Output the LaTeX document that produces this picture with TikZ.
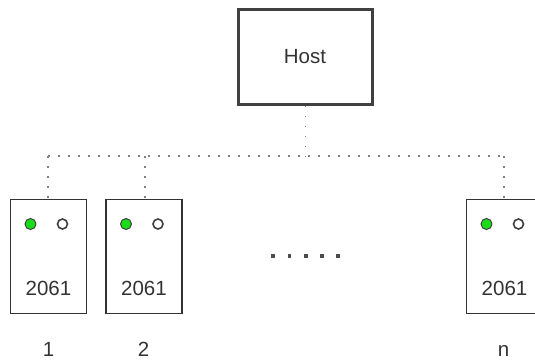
\documentclass[tikz,border=0pt]{standalone}
\usepackage{fontspec}
\setmainfont{Liberation Sans}
\begin{document}
\begin{tikzpicture}[x=1pt,y=-1pt,
  boxframe/.style={draw=black!80,line width=1.6pt,fill=white,inner sep=0pt},
  hostframe/.style={draw=black!75,line width=2.1pt,fill=white,inner sep=0pt,minimum width=134pt,minimum height=95pt},
  unitframe/.style={boxframe,minimum width=76pt,minimum height=114pt},
  bus/.style={draw=black!50,line width=1.8pt,dash pattern=on 1.8pt off 8.2pt},
  ledon/.style={circle,draw=black!75,line width=1pt,fill=green!85!black!90,minimum size=11pt,inner sep=0pt},
  ledoff/.style={circle,draw=black!75,line width=1.6pt,fill=white,minimum size=10pt,inner sep=0pt},
  txt/.style={font=\fontsize{20.5}{24}\selectfont,text=black!80,inner sep=0pt},
  gapdot/.style={rectangle,fill=black!70,minimum size=3.2pt,inner sep=0pt}]
\useasboundingbox (0,0) rectangle (535,360);
\clip (0,0) rectangle (535,360);
% host
\node[hostframe] (host) at (305.5,57) {};
\node[txt] (hosttxt) at (305,57) {Host};
% bus coordinates
\coordinate (j0) at (305.5,156);
\coordinate (jl) at (48,156);
\coordinate (j2) at (145,156);
\coordinate (jr) at (504,156);
% units
\node[unitframe] (u1) at (48.5,256.5) {};
\node[unitframe] (u2) at (144,256.5) {};
\node[unitframe] (un) at (504.5,256.5) {};
\foreach \u/\c in {u1/48.5,u2/144,un/504.5}{
  \node[ledon] (\u g) at ([xshift=-18pt]\c,224) {};
  \node[ledoff] (\u w) at ([xshift=14pt]\c,224) {};
  \node[txt] (\u t) at (\c,288) {2061};
}
% bus
\draw[bus] (host.south) -- (j0);
\draw[bus] (jl) -- (jr);
\draw[bus] (jl) -- (jl |- u1.north);
\draw[bus] (j2) -- (j2 |- u2.north);
\draw[bus] (jr) -- (jr |- un.north);
% labels
\node[txt,anchor=base] (l1) at (48.5,356.5) {1};
\node[txt,anchor=base] (l2) at (143.5,356.5) {2};
\node[txt,anchor=base] (ln) at (503.5,356.5) {n};
% gap dots
\foreach \i/\x in {1/273,2/289.5,3/306,4/322,5/338}{
  \node[gapdot] (gd\i) at (\x,256) {};
}
\end{tikzpicture}
\end{document}
